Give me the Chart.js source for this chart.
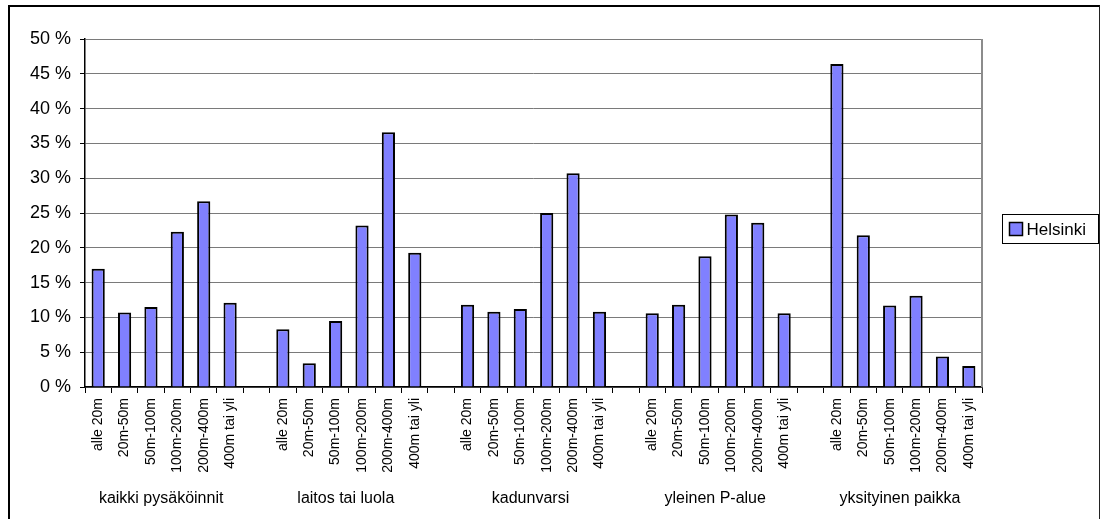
<!DOCTYPE html>
<html>
<head>
<meta charset="utf-8">
<script src="https://cdn.jsdelivr.net/npm/chart.js@4/dist/chart.umd.min.js"></script>
<style>
  html, body { margin: 0; padding: 0; background: #fff; }
  #wrap { position: relative; width: 1103px; height: 519px; overflow: hidden; }
  #frame {
    position: absolute; left: 8px; top: 5px; width: 1092px; height: 600px;
    border-left: 2px solid #000; border-top: 2px solid #000; border-right: 1px solid #222;
    box-sizing: border-box;
  }
  canvas { position: absolute; left: 0; top: 0; }
</style>
</head>
<body>
<div id="wrap">
  <div id="frame"></div>
  <canvas id="c" width="1103" height="519"></canvas>
</div>
<script>
// Distance bands shown under every group
const distanceBands = ['alle 20m', '20m-50m', '50m-100m', '100m-200m', '200m-400m', '400m tai yli'];
// Parking place types (group captions)
const placeTypes = ['kaikki pysäköinnit', 'laitos tai luola', 'kadunvarsi', 'yleinen P-alue', 'yksityinen paikka'];
// Share of trips (%) by distance band, one array per parking place type
const kaikki     = [17.0, 10.7, 11.5, 22.3, 26.7, 12.1];
const laitos     = [8.3, 3.4, 9.5, 23.2, 36.6, 19.3];
const kadunvarsi = [11.8, 10.8, 11.2, 25.0, 30.7, 10.8];
const yleinen    = [10.6, 11.8, 18.8, 24.8, 23.6, 10.6];
const yksityinen = [46.4, 21.8, 11.7, 13.1, 4.4, 3.0];
const seriesName = 'Helsinki';
const yTicks = [0, 5, 10, 15, 20, 25, 30, 35, 40, 45, 50];

// Build the flat category list with an empty slot between groups
const groupValues = [kaikki, laitos, kadunvarsi, yleinen, yksityinen];
const labels = [];
const values = [];
const groupSlots = [];
groupValues.forEach((vals, g) => {
  if (g > 0) { labels.push(''); values.push(null); }
  const first = labels.length;
  distanceBands.forEach((b, i) => { labels.push(b); values.push(vals[i]); });
  groupSlots.push([first, labels.length - 1]);
});

const FONT = "'Liberation Sans', Arial, sans-serif";

const decorations = {
  id: 'decorations',
  afterDatasetsDraw(chart) {
    const { ctx, chartArea, scales } = chart;
    ctx.save();
    // right border of the plot area
    ctx.strokeStyle = '#8c8c8c';
    ctx.lineWidth = 2;
    ctx.beginPath();
    ctx.moveTo(chartArea.right, chartArea.top);
    ctx.lineTo(chartArea.right, chartArea.bottom);
    ctx.stroke();

    // group captions below the rotated band labels
    ctx.fillStyle = '#000';
    ctx.font = '16px ' + FONT;
    ctx.textAlign = 'center';
    ctx.textBaseline = 'middle';
    groupSlots.forEach(([a, b], g) => {
      const x = (scales.x.getPixelForValue(a) + scales.x.getPixelForValue(b)) / 2;
      ctx.fillText(placeTypes[g], x - 3, 499);
    });

    // boxed legend at the right
    const ds = chart.data.datasets[0];
    const bx = chartArea.right + 20.5, by = 214.5, bw = 96, bh = 29;
    ctx.strokeStyle = '#000';
    ctx.lineWidth = 1;
    ctx.strokeRect(bx, by, bw, bh);
    ctx.fillStyle = ds.backgroundColor;
    ctx.fillRect(bx + 7, by + 8, 13, 13);
    ctx.lineWidth = 1.5;
    ctx.strokeRect(bx + 7, by + 8, 13, 13);
    ctx.fillStyle = '#000';
    ctx.font = '17px ' + FONT;
    ctx.textAlign = 'left';
    ctx.fillText(ds.label, bx + 24, by + bh / 2 + 1);
    ctx.restore();
  }
};

new Chart(document.getElementById('c'), {
  type: 'bar',
  data: {
    labels: labels,
    datasets: [{
      label: seriesName,
      data: values,
      backgroundColor: '#8080ff',
      borderColor: '#000',
      borderWidth: 2,
      borderSkipped: 'bottom',
      categoryPercentage: 1,
      barPercentage: 0.5
    }]
  },
  options: {
    responsive: false,
    animation: false,
    layout: { padding: { top: 39, right: 121, left: 0, bottom: 0 } },
    plugins: { legend: { display: false }, tooltip: { enabled: false } },
    scales: {
      x: {
        offset: true,
        grid: { offset: true, drawOnChartArea: false, color: '#000', tickLength: 6, lineWidth: 1 },
        border: { color: '#000', width: 1.5 },
        ticks: {
          autoSkip: false, maxRotation: 90, minRotation: 90, padding: 5,
          color: '#000', font: { family: FONT, size: 14 }
        },
        afterFit(scale) { scale.height = 132; }
      },
      y: {
        min: 0, max: 50,
        afterBuildTicks(scale) { scale.ticks = yTicks.map(v => ({ value: v })); },
        grid: { color: '#7a7a7a', lineWidth: 1, tickLength: 5, tickColor: '#000' },
        border: { color: '#000', width: 1.5 },
        ticks: {
          padding: 9, color: '#000', font: { family: FONT, size: 18 },
          callback: v => v + ' %'
        },
        afterFit(scale) { scale.width = 85; }
      }
    }
  },
  plugins: [decorations]
});
</script>
</body>
</html>
